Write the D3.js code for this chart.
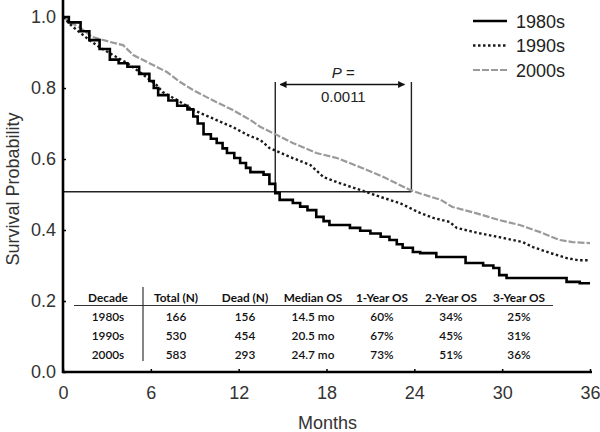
<!DOCTYPE html>
<html><head><meta charset="utf-8">
<script src="https://cdn.jsdelivr.net/npm/d3@7"></script>
<style>body{margin:0;background:#fff}svg{display:block}</style>
</head><body>
<svg id="c" width="600" height="432"></svg>
<script>
const xTicks = [0, 6, 12, 18, 24, 30, 36];
const yTicks = [0.0, 0.2, 0.4, 0.6, 0.8, 1.0];
const seriesNames = ["1980s", "1990s", "2000s"];
// [months, survival]
const s1980 = [[0,1.0],[0.4,0.985],[1.2,0.96],[1.8,0.935],[2.5,0.91],[3.2,0.88],[3.8,0.87],[4.4,0.86],[5.2,0.84],[5.9,0.82],[6.2,0.80],[6.5,0.78],[7.2,0.765],[7.8,0.75],[8.5,0.74],[8.9,0.72],[9.2,0.70],[9.6,0.67],[10.1,0.657],[10.5,0.645],[10.9,0.63],[11.2,0.617],[11.7,0.603],[12.1,0.589],[12.5,0.575],[12.8,0.563],[13.7,0.556],[14.1,0.53],[14.5,0.504],[14.8,0.485],[15.7,0.476],[16.2,0.466],[16.7,0.456],[17.3,0.437],[17.8,0.425],[18.2,0.414],[19.6,0.406],[20.3,0.398],[21.0,0.39],[21.7,0.381],[22.3,0.372],[22.8,0.36],[23.2,0.35],[23.9,0.338],[24.4,0.335],[25.5,0.324],[27.3,0.324],[27.5,0.307],[28.7,0.30],[29.4,0.293],[29.8,0.273],[30.3,0.265],[34.2,0.265],[34.4,0.254],[35.3,0.25],[36,0.25]];
const s1990 = [[0,1.0],[0.6,0.975],[1.2,0.955],[1.8,0.935],[2.5,0.915],[3.4,0.893],[4.4,0.87],[5.5,0.837],[6.4,0.808],[6.8,0.789],[7.8,0.766],[8.9,0.738],[10.2,0.715],[11.6,0.69],[12.6,0.668],[13.5,0.653],[14.1,0.631],[15.5,0.606],[16.9,0.583],[17.8,0.549],[18.9,0.532],[20.3,0.513],[21.7,0.493],[23.0,0.476],[24.4,0.448],[25.3,0.434],[26.4,0.423],[26.9,0.406],[28.3,0.392],[29.8,0.38],[31.4,0.366],[32.1,0.352],[33.3,0.335],[34.4,0.321],[35.2,0.315],[36,0.315]];
const s2000 = [[0,1.0],[0.5,0.985],[1.2,0.969],[2.0,0.944],[3.2,0.93],[4.1,0.921],[4.8,0.893],[5.9,0.87],[7.1,0.845],[8.0,0.817],[8.9,0.794],[10.2,0.766],[11.6,0.738],[12.8,0.71],[13.5,0.69],[14.6,0.668],[15.7,0.645],[17.3,0.617],[18.7,0.603],[20.3,0.577],[21.9,0.549],[23.0,0.527],[23.7,0.513],[24.4,0.503],[25.8,0.485],[26.6,0.465],[28.0,0.45],[29.8,0.428],[31.2,0.414],[32.6,0.394],[33.9,0.372],[34.8,0.366],[36,0.363]];
const tableHeader = ["Decade","Total (N)","Dead (N)","Median OS","1-Year OS","2-Year OS","3-Year OS"];
const tableRows = [
  ["1980s","166","156","14.5 mo","60%","34%","25%"],
  ["1990s","530","454","20.5 mo","67%","45%","31%"],
  ["2000s","583","293","24.7 mo","73%","51%","36%"]
];
const medianLevel = 0.508;
const medianStart = 14.5, boxEnd = 23.8, boxTop = 0.817;
const pLabel = "0.0011";

const svg = d3.select("#c");
const x = d3.scaleLinear().domain([0, 36]).range([63, 590]);
const y = d3.scaleLinear().domain([0, 1.048]).range([372, 0]);
const font = "'Liberation Sans', Arial, sans-serif";

// reference lines (median box)
const g = svg.append("g").attr("stroke", "#222").attr("stroke-width", 1.4).attr("fill", "none");
g.append("line").attr("x1", x(0)).attr("x2", x(boxEnd)).attr("y1", y(medianLevel)).attr("y2", y(medianLevel));
g.append("line").attr("x1", x(medianStart)).attr("x2", x(medianStart)).attr("y1", y(medianLevel)).attr("y2", y(boxTop));
g.append("line").attr("x1", x(boxEnd)).attr("x2", x(boxEnd)).attr("y1", y(medianLevel)).attr("y2", y(boxTop));

// arrow
const defs = svg.append("defs");
defs.append("marker").attr("id","ah").attr("viewBox","0 0 10 10").attr("refX",9).attr("refY",5)
  .attr("markerWidth",7).attr("markerHeight",7).attr("orient","auto-start-reverse").attr("markerUnits","userSpaceOnUse")
  .append("path").attr("d","M0,0 L10,5 L0,10 z").attr("fill","#111");
const ay = y(boxTop) + 2.5;
svg.append("line").attr("x1", x(medianStart) + 5).attr("x2", x(boxEnd) - 7).attr("y1", ay).attr("y2", ay)
  .attr("stroke","#111").attr("stroke-width",1.6).attr("marker-start","url(#ah)").attr("marker-end","url(#ah)");
const pcx = (x(medianStart) + x(boxEnd)) / 2;
const pt = svg.append("text").attr("x", pcx).attr("y", ay - 6).attr("text-anchor","middle")
  .attr("font-family", font).attr("font-size", 15).attr("fill","#222");
pt.append("tspan").attr("font-style","italic").text("P");
pt.append("tspan").text(" =");
svg.append("text").attr("x", pcx).attr("y", ay + 18).attr("text-anchor","middle")
  .attr("font-family", font).attr("font-size", 15).attr("fill","#222").text(pLabel);

// curves
const stepLine = d3.line().x(d => x(d[0])).y(d => y(d[1])).curve(d3.curveStepAfter);
const smoothLine = d3.line().x(d => x(d[0])).y(d => y(d[1])).curve(d3.curveLinear);
const styles = [
  {data: s1980, stroke: "#000", width: 2.6, dash: null, gen: stepLine},
  {data: s1990, stroke: "#1a1a1a", width: 2.4, dash: "2.5,2.5", gen: smoothLine},
  {data: s2000, stroke: "#9a9a9a", width: 2.2, dash: "7,2", gen: smoothLine}
];
styles.slice().reverse().forEach(s => {
  svg.append("path").datum(s.data).attr("d", s.gen).attr("fill","none")
    .attr("stroke", s.stroke).attr("stroke-width", s.width).attr("stroke-dasharray", s.dash);
});

// axes
const xAxis = d3.axisBottom(x).tickValues(xTicks).tickSize(-3).tickPadding(14).tickFormat(d3.format("d"));
const gx = svg.append("g").attr("transform", `translate(0,${y(0)})`).call(xAxis);
gx.select(".domain").attr("d", `M${x(0)-1},0H${x(36)+2}`).attr("stroke-width", 2.6);
gx.selectAll(".tick line").attr("stroke-width", 1.5);
gx.selectAll("text").attr("font-family", font).attr("font-size", 18).attr("fill","#333");

const yAxis = d3.axisLeft(y).tickValues(yTicks).tickSize(-3).tickPadding(7).tickFormat(d3.format(".1f"));
const gy = svg.append("g").attr("transform", `translate(${x(0)},0)`).call(yAxis);
gy.select(".domain").attr("d", `M0,${y(0)+1}V0`).attr("stroke-width", 2.6);
gy.selectAll(".tick line").attr("stroke-width", 1.5);
gy.selectAll("text").attr("font-family", font).attr("font-size", 18).attr("fill","#333");

svg.append("text").attr("x", (x(0)+x(36))/2 + 1).attr("y", 429).attr("text-anchor","middle")
  .attr("font-family", font).attr("font-size", 18).attr("fill","#333").text("Months");
svg.append("text").attr("transform", `translate(19,189) rotate(-90)`).attr("text-anchor","middle")
  .attr("font-family", font).attr("font-size", 18).attr("fill","#333").text("Survival Probability");

// legend
const lg = svg.append("g");
styles.forEach((s, i) => {
  const ly = 21 + i * 24.5;
  lg.append("line").attr("x1", 473).attr("x2", 507).attr("y1", ly).attr("y2", ly)
    .attr("stroke", s.stroke).attr("stroke-width", s.width).attr("stroke-dasharray", s.dash);
  lg.append("text").attr("x", 516).attr("y", ly + 6.5).attr("font-family", font).attr("font-size", 18)
    .attr("fill","#222").text(seriesNames[i]);
});

// table
const colX = [108, 176, 245, 313, 382, 451, 519];
const tf = "Lato, 'Open Sans', sans-serif";
const tb = svg.append("g").attr("font-family", tf).attr("font-size", 11.8).attr("fill","#111").attr("text-anchor","middle");
tableHeader.forEach((h, i) => tb.append("text").attr("x", colX[i]).attr("y", 302).attr("font-weight","bold").text(h));
tableRows.forEach((r, j) => r.forEach((v, i) =>
  tb.append("text").attr("x", colX[i]).attr("y", 320.5 + j * 19).attr("font-weight", 600).text(v)));
svg.append("line").attr("x1", 74).attr("x2", 553).attr("y1", 305.5).attr("y2", 305.5).attr("stroke","#333").attr("stroke-width",1.2);
svg.append("line").attr("x1", 143).attr("x2", 143).attr("y1", 287).attr("y2", 361).attr("stroke","#333").attr("stroke-width",1.2);
</script>
</body></html>
